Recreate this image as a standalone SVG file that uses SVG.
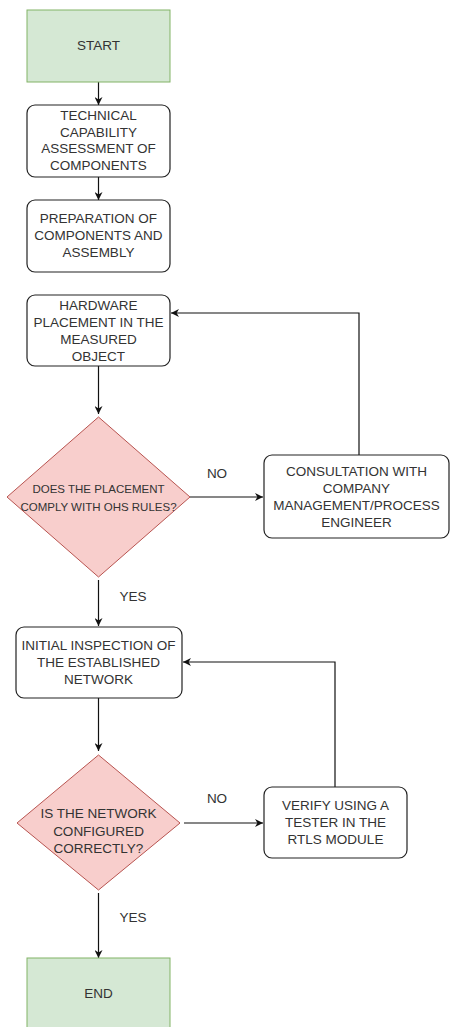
<svg xmlns="http://www.w3.org/2000/svg" width="450" height="1027" viewBox="0 0 450 1027">
<style>
text{font-family:"Liberation Sans",Arial,sans-serif;font-size:13.5px;fill:#333;text-anchor:middle}
.sm{font-size:11.5px}
.box{fill:#fff;stroke:#222;stroke-width:1.2}
.term{fill:#d5e8d4;stroke:#82b366;stroke-width:1}
.dec{fill:#f8cecc;stroke:#b85450;stroke-width:1}
.c{fill:none;stroke:#111;stroke-width:1.2}
</style>
<defs>
<marker id="ah" viewBox="0 0 10 10" refX="10" refY="5" markerWidth="8" markerHeight="8" markerUnits="userSpaceOnUse" orient="auto">
<path d="M0,0 L10,5 L0,10 L3,5 z" fill="#111"/>
</marker>
</defs>
<rect width="450" height="1027" fill="#fff"/>
<g id="connectors">
<path class="c" d="M98.5,82 V105" marker-end="url(#ah)"/>
<path class="c" d="M98.5,177 V200" marker-end="url(#ah)"/>
<path class="c" d="M98.5,366 V414" marker-end="url(#ah)"/>
<path class="c" d="M190,497 H263" marker-end="url(#ah)"/>
<path class="c" d="M359,455 V313 H171" marker-end="url(#ah)"/>
<path class="c" d="M98.5,580 V626" marker-end="url(#ah)"/>
<path class="c" d="M98.5,698 V751" marker-end="url(#ah)"/>
<path class="c" d="M184,823 H263" marker-end="url(#ah)"/>
<path class="c" d="M335,787 V662 H183" marker-end="url(#ah)"/>
<path class="c" d="M98.5,893 V958" marker-end="url(#ah)"/>
<text x="217" y="478">NO</text>
<text x="133" y="601">YES</text>
<text x="217" y="803">NO</text>
<text x="133" y="922">YES</text>
</g>
<g id="start">
<rect class="term" x="27" y="10" width="143" height="72"/>
<text x="98.5" y="50">START</text>
</g>
<g id="tech">
<rect class="box" x="27" y="105" width="143" height="72" rx="8"/>
<text x="98.5" y="120">TECHNICAL</text>
<text x="98.5" y="136.7">CAPABILITY</text>
<text x="98.5" y="153.4">ASSESSMENT OF</text>
<text x="98.5" y="170">COMPONENTS</text>
</g>
<g id="prep">
<rect class="box" x="27" y="200" width="143" height="72" rx="8"/>
<text x="98.5" y="223">PREPARATION OF</text>
<text x="98.5" y="240">COMPONENTS AND</text>
<text x="98.5" y="257">ASSEMBLY</text>
</g>
<g id="hardware">
<rect class="box" x="27" y="295" width="143" height="71" rx="8"/>
<text x="98.5" y="310">HARDWARE</text>
<text x="98.5" y="327">PLACEMENT IN THE</text>
<text x="98.5" y="344">MEASURED</text>
<text x="98.5" y="361">OBJECT</text>
</g>
<g id="ohs">
<path class="dec" d="M98.5,417 L190,497 L98.5,577 L7,497 Z" stroke-linejoin="round"/>
<text class="sm" x="98.5" y="493">DOES THE PLACEMENT</text>
<text class="sm" x="98.5" y="510.5">COMPLY WITH OHS RULES?</text>
</g>
<g id="consult">
<rect class="box" x="264" y="455" width="185" height="83" rx="8"/>
<text x="356.5" y="476">CONSULTATION WITH</text>
<text x="356.5" y="493">COMPANY</text>
<text x="356.5" y="510">MANAGEMENT/PROCESS</text>
<text x="356.5" y="527">ENGINEER</text>
</g>
<g id="initial">
<rect class="box" x="16" y="627" width="166" height="71" rx="8"/>
<text x="98.5" y="650">INITIAL INSPECTION OF</text>
<text x="98.5" y="667">THE ESTABLISHED</text>
<text x="98.5" y="684">NETWORK</text>
</g>
<g id="network">
<path class="dec" d="M98.5,755 L180,823 L98.5,890 L17,823 Z" stroke-linejoin="round"/>
<text x="98.5" y="818">IS THE NETWORK</text>
<text x="98.5" y="836">CONFIGURED</text>
<text x="98.5" y="853">CORRECTLY?</text>
</g>
<g id="verify">
<rect class="box" x="264" y="787" width="143" height="71" rx="8"/>
<text x="335.5" y="810">VERIFY USING A</text>
<text x="335.5" y="827">TESTER IN THE</text>
<text x="335.5" y="844">RTLS MODULE</text>
</g>
<g id="end">
<rect class="term" x="27" y="958" width="143" height="70"/>
<text x="98.5" y="998">END</text>
</g>
</svg>
